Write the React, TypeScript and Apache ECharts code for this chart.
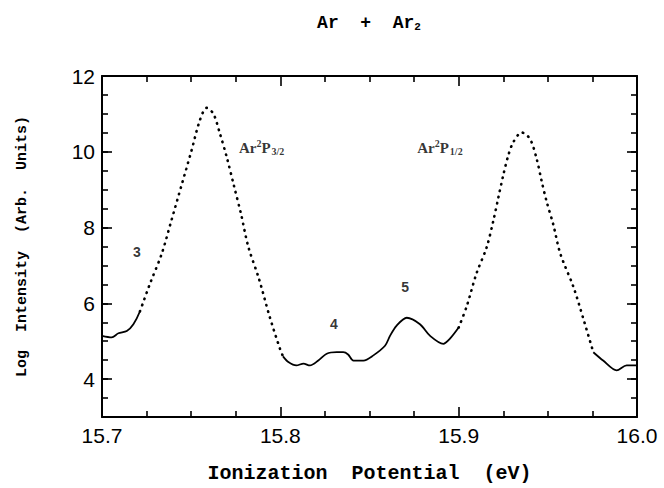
import React, { useEffect, useRef } from "react";
import * as echarts from "echarts";

// Ionization potential (eV) vs log intensity
const leftWing: number[][] = [
  [15.7, 5.14], [15.7054, 5.1], [15.7092, 5.21], [15.7139, 5.27], [15.7176, 5.45], [15.7213, 5.79],
];
const peak32: number[][] = [
  [15.7213, 5.79], [15.727, 6.53], [15.7335, 7.31], [15.739, 8.2], [15.7445, 9.1], [15.75, 10.0],
  [15.755, 10.85], [15.7587, 11.16], [15.7625, 11.0], [15.766, 10.5], [15.77, 9.85], [15.774, 9.1],
  [15.778, 8.35], [15.782, 7.5], [15.788, 6.65], [15.794, 5.65], [15.7998, 4.8], [15.8015, 4.6],
];
const valley: number[][] = [
  [15.8015, 4.6], [15.8045, 4.45], [15.809, 4.36], [15.813, 4.41], [15.8166, 4.36], [15.8213, 4.49],
  [15.826, 4.67], [15.8316, 4.71], [15.8353, 4.71], [15.838, 4.65], [15.841, 4.49], [15.8466, 4.49],
  [15.852, 4.62], [15.8587, 4.88], [15.8615, 5.14], [15.865, 5.4], [15.8709, 5.62], [15.8783, 5.45],
  [15.884, 5.14], [15.8914, 4.93], [15.895, 5.06], [15.9, 5.36],
];
const peak12: number[][] = [
  [15.9, 5.36], [15.9045, 5.92], [15.91, 6.79], [15.9157, 7.48], [15.9194, 8.17], [15.9222, 8.78],
  [15.925, 9.38], [15.9278, 9.9], [15.9306, 10.25], [15.9353, 10.51], [15.94, 10.34], [15.9437, 9.82],
  [15.9466, 9.21], [15.9493, 8.69], [15.953, 8.09], [15.957, 7.31], [15.9643, 6.44], [15.97, 5.58],
  [15.9755, 4.71],
];
const rightWing: number[][] = [
  [15.9755, 4.71], [15.981, 4.49], [15.9886, 4.23], [15.9942, 4.36], [16.0, 4.36],
];

const xTicks = [15.7, 15.8, 15.9, 16.0];
const yTicks = [4, 6, 8, 10, 12];

const peakLabels = [
  { x: 15.7196, y: 7.35, text: "3" },
  { x: 15.83, y: 5.45, text: "4" },
  { x: 15.87, y: 6.42, text: "5" },
];
const stateLabels = [
  { x: 15.7895, y: 10.1, text: "Ar{sup|2}P{sub|3/2}" },
  { x: 15.8895, y: 10.1, text: "Ar{sup|2}P{sub|1/2}" },
];

const X_MIN = 15.7, X_MAX = 16.0, Y_MIN = 3, Y_MAX = 12;

const MONO = "'Liberation Mono', 'DejaVu Sans Mono', monospace";
const SANS = "'Liberation Sans', Arial, sans-serif";
const SERIF = "'Liberation Serif', 'DejaVu Serif', serif";

export default function App() {
  const ref = useRef<HTMLDivElement>(null);
  useEffect(() => {
    document.body.style.margin = "0";
    const chart = echarts.init(ref.current!, undefined, { renderer: "svg" });
    const black = "#000";
    const tickStyle = { color: black, width: 1.6 };
    const solid = (data: number[][]) => ({
      type: "line",
      data,
      showSymbol: false,
      smooth: 0.3,
      silent: true,
      lineStyle: { color: black, width: 1.8 },
    });
    const dotted = (data: number[][]) => ({
      type: "line",
      data,
      showSymbol: false,
      smooth: 0.3,
      silent: true,
      lineStyle: { color: black, width: 2.6, type: [0.5, 6], cap: "round" },
    });
    const baseX = {
      type: "value",
      min: X_MIN,
      max: X_MAX,
      interval: 0.1,
      splitLine: { show: false },
      axisLine: { show: true, onZero: false, lineStyle: { color: black, width: 2 } },
      axisTick: { show: true, inside: true, length: 10, lineStyle: tickStyle },
      minorTick: { show: true, splitNumber: 4, length: 6, lineStyle: tickStyle },
    };
    const minorY = {
      type: "value",
      min: Y_MIN,
      max: Y_MAX,
      interval: 0.5,
      splitLine: { show: false },
      axisLine: { show: true, onZero: false, lineStyle: { color: black, width: 2 } },
      axisTick: { show: true, inside: true, length: 6, lineStyle: tickStyle },
      axisLabel: { show: false },
    };
    const majorY = {
      type: "value",
      min: Y_MIN,
      max: Y_MAX,
      interval: 0.5,
      splitLine: { show: false },
      axisLine: { show: false },
      axisTick: { show: true, inside: true, length: 10, customValues: yTicks, lineStyle: tickStyle },
      axisLabel: { show: false },
    };
    chart.setOption({
      animation: false,
      backgroundColor: "#fff",
      grid: { left: 102, right: 27, top: 76, bottom: 65 },
      xAxis: [
        {
          ...baseX,
          position: "bottom",
          axisLabel: {
            show: true,
            color: black,
            fontSize: 21,
            fontFamily: SANS,
            margin: 8,
            formatter: (v: number) => (xTicks.some((t) => Math.abs(t - v) < 1e-6) ? v.toFixed(1) : ""),
          },
          name: "Ionization  Potential  (eV)",
          nameLocation: "middle",
          nameGap: 46,
          nameTextStyle: { color: black, fontSize: 20, fontFamily: MONO, fontWeight: "bold" },
        },
        { ...baseX, position: "top", axisLabel: { show: false } },
      ],
      yAxis: [
        {
          ...minorY,
          position: "left",
          axisLabel: {
            show: true,
            color: black,
            fontSize: 21,
            fontFamily: SANS,
            margin: 7,
            formatter: (v: number) => (yTicks.includes(v) ? String(v) : ""),
          },
          name: "Log  Intensity  (Arb.  Units)",
          nameLocation: "middle",
          nameGap: 72,
          nameRotate: 90,
          nameTextStyle: { color: black, fontSize: 15, fontFamily: MONO, fontWeight: "bold" },
        },
        { ...majorY, position: "left" },
        { ...minorY, position: "right" },
        { ...majorY, position: "right" },
      ],
      graphic: [
        {
          type: "text",
          x: 369,
          y: 23,
          style: {
            text: "Ar  +  Ar{sub|2}",
            align: "center",
            verticalAlign: "middle",
            fill: black,
            font: `bold 18px ${MONO}`,
            rich: {
              sub: { fontSize: 11, fontWeight: "bold", fontFamily: MONO, verticalAlign: "bottom", padding: [8, 0, 0, 0], fill: black },
            },
          },
        },
      ],
      series: [
        solid(leftWing),
        dotted(peak32),
        solid(valley),
        dotted(peak12),
        solid(rightWing),
        {
          type: "scatter",
          silent: true,
          symbolSize: 1,
          itemStyle: { color: "rgba(0,0,0,0)" },
          data: peakLabels.map((p) => ({ value: [p.x, p.y], name: p.text })),
          label: {
            show: true,
            position: "inside",
            formatter: (p: any) => p.name,
            color: black,
            fontSize: 14,
            fontWeight: "bold",
            fontFamily: SANS,
          },
        },
        {
          type: "scatter",
          silent: true,
          symbolSize: 1,
          itemStyle: { color: "rgba(0,0,0,0)" },
          data: stateLabels.map((p) => ({ value: [p.x, p.y], name: p.text })),
          label: {
            show: true,
            position: "inside",
            formatter: (p: any) => p.name,
            color: black,
            fontSize: 15,
            fontWeight: "bold",
            fontFamily: SERIF,
            rich: {
              sup: { fontSize: 10, fontWeight: "bold", fontFamily: SERIF, color: black, verticalAlign: "top", padding: [0, 0, 8, 0] },
              sub: { fontSize: 10, fontWeight: "bold", fontFamily: SERIF, color: black, verticalAlign: "bottom", padding: [7, 0, 0, 1] },
            },
          },
        },
      ],
    });
    return () => chart.dispose();
  }, []);
  return <div ref={ref} style={{ position: "fixed", left: 0, top: 0, width: 664, height: 488 }} />;
}
